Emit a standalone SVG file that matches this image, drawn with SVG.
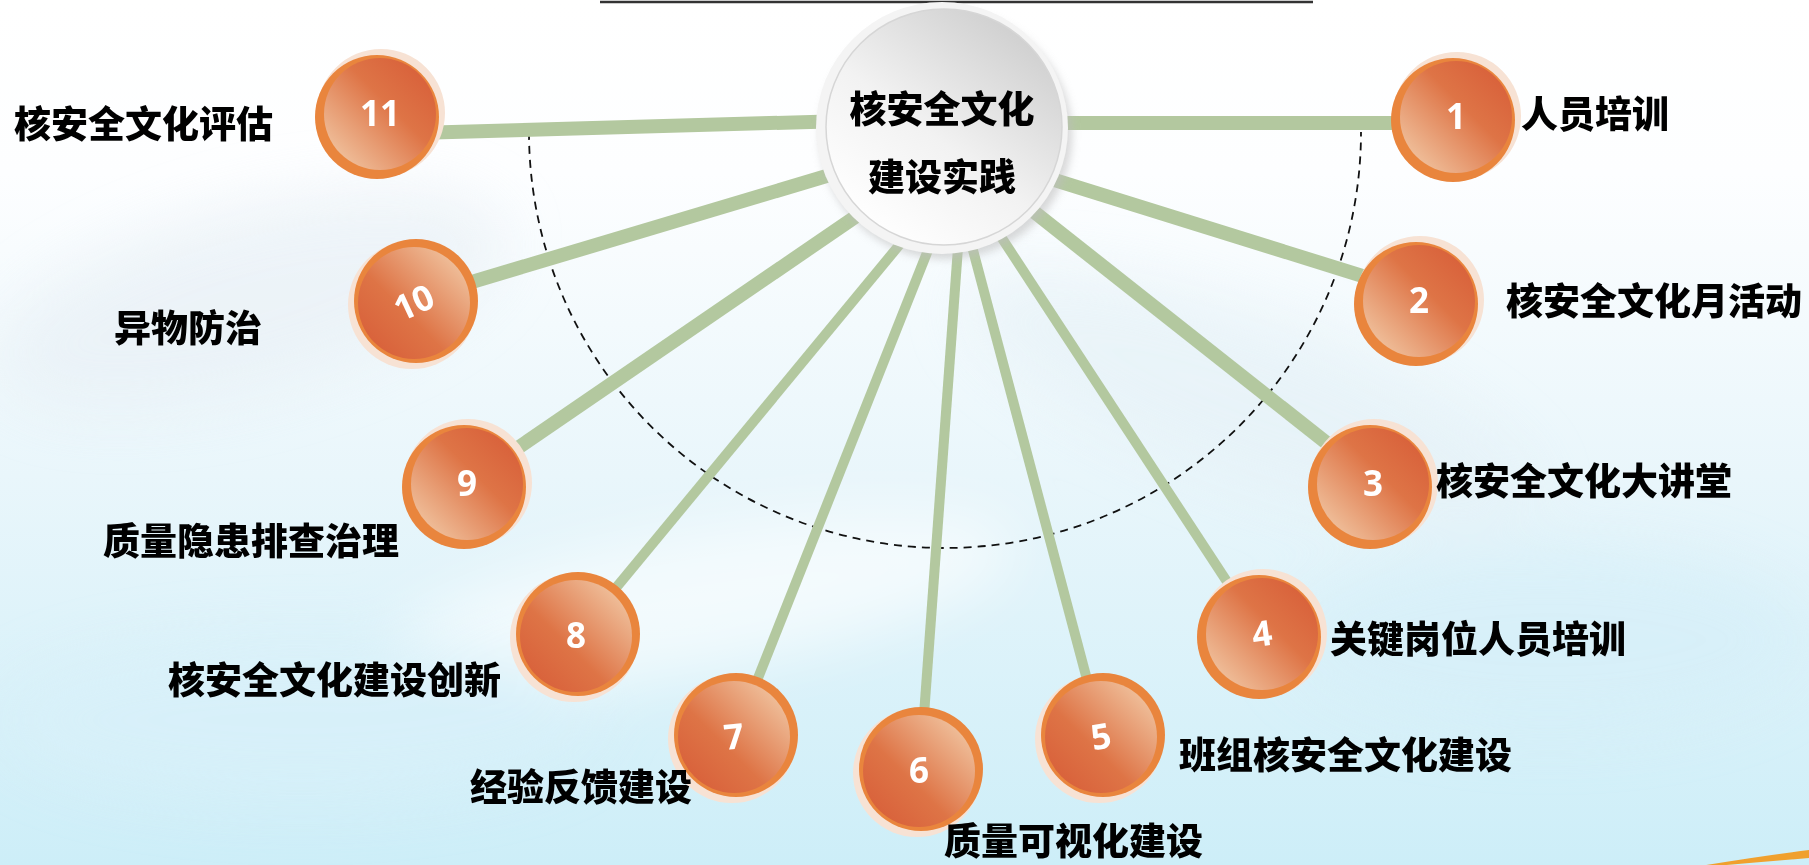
<svg xmlns="http://www.w3.org/2000/svg" width="1809" height="865" viewBox="0 0 1809 865">
<style>
.lbl{font-family:"Noto Sans CJK SC","Noto Sans",sans-serif;font-weight:900;font-size:37px;fill:#000}
.num{font-family:"Open Sans","Noto Sans",sans-serif;font-weight:700;font-size:35px;fill:#fff;text-anchor:middle}
.halo{fill:#F7E2D4}
.ring{fill:#E9853D}
.conA{stroke:#B3C89F;stroke-width:14;fill:none}
.conB{stroke:#B3C89F;stroke-width:10;fill:none}
</style>
<defs>
<linearGradient id="bgG" x1="0" y1="0" x2="0" y2="1">
<stop offset="0" stop-color="#FFFFFF"/>
<stop offset="0.2" stop-color="#FDFEFF"/>
<stop offset="0.55" stop-color="#E9F6FB"/>
<stop offset="1" stop-color="#CDEEF8"/>
</linearGradient>
<linearGradient id="gA" x1="0.1" y1="0.9" x2="0.9" y2="0.1">
<stop offset="0" stop-color="#F0C39F"/>
<stop offset="0.6" stop-color="#DE7446"/>
<stop offset="1" stop-color="#D8603A"/>
</linearGradient>
<linearGradient id="gB" x1="0.9" y1="0.1" x2="0.1" y2="0.9">
<stop offset="0" stop-color="#F0C39F"/>
<stop offset="0.6" stop-color="#DE7446"/>
<stop offset="1" stop-color="#D8603A"/>
</linearGradient>
<linearGradient id="cG" x1="0.85" y1="0.1" x2="0.2" y2="0.95">
<stop offset="0" stop-color="#CFCFCF"/>
<stop offset="0.55" stop-color="#F2F2F2"/>
<stop offset="1" stop-color="#FFFFFF"/>
</linearGradient>
<filter id="blur" x="-50%" y="-50%" width="200%" height="200%"><feGaussianBlur stdDeviation="30"/></filter>
<filter id="sh" x="-20%" y="-20%" width="140%" height="140%"><feGaussianBlur stdDeviation="4"/></filter>
</defs>

<g id="background">
<rect x="0" y="0" width="1809" height="865" fill="url(#bgG)"/>
<g filter="url(#blur)" opacity="0.6">
<ellipse cx="250" cy="300" rx="260" ry="90" fill="#E6EEF4" transform="rotate(-15 250 300)"/>
<ellipse cx="1250" cy="400" rx="300" ry="80" fill="#E4F0F6" transform="rotate(20 1250 400)"/>
<ellipse cx="700" cy="600" rx="320" ry="70" fill="#FFFFFF" transform="rotate(-10 700 600)"/>
<ellipse cx="1550" cy="640" rx="260" ry="90" fill="#D4EEF8"/>
<ellipse cx="300" cy="720" rx="300" ry="80" fill="#D8F0F9"/>
</g>
<path d="M1700 866 Q1760 856 1809 850 L1809 858 Q1760 862 1715 866 Z" fill="#F0A02E"/>
</g>

<line id="top-rule" x1="600" y1="2" x2="1313" y2="2" stroke="#333" stroke-width="2.5"/>

<path id="dashed-arc" d="M529 132 A416 416 0 0 0 1361 132" fill="none" stroke="#111" stroke-width="1.8" stroke-dasharray="8 6"/>

<g id="connectors">
<line class="conA" x1="880" y1="120" x2="380" y2="134"/>
<line class="conA" x1="1000" y1="123" x2="1454" y2="123"/>
<line class="conA" x1="880" y1="160" x2="415" y2="299"/>
<line class="conA" x1="1000" y1="163" x2="1417" y2="293"/>
<line class="conA" x1="880" y1="200" x2="465" y2="484"/>
<line class="conA" x1="1000" y1="185" x2="1371" y2="478"/>
<line class="conB" x1="920" y1="220" x2="577" y2="635"/>
<line class="conB" x1="990" y1="220" x2="1260" y2="632"/>
<line class="conB" x1="940" y1="220" x2="735" y2="736"/>
<line class="conB" x1="965" y1="220" x2="1102" y2="736"/>
<line class="conB" x1="960" y1="220" x2="920" y2="770"/>
</g>

<g id="center">
<ellipse cx="946" cy="135" rx="126" ry="124" fill="#BDBDBD" opacity="0.6" filter="url(#sh)"/>
<circle cx="942" cy="128" r="126" fill="#F4F4F4"/>
<circle cx="944" cy="127" r="118" fill="url(#cG)" stroke="#D6D6D6" stroke-width="1.5"/>
<text class="lbl" x="942" y="123" text-anchor="middle">核安全文化</text>
<text class="lbl" x="942" y="191" text-anchor="middle">建设实践</text>
</g>

<g id="node-1">
<circle class="halo" cx="1457" cy="116" r="64"/>
<circle class="ring" cx="1453" cy="120" r="62"/>
<circle cx="1456" cy="117" r="56" fill="url(#gA)"/>
<text class="num" x="1456" y="129">1</text>
<text class="lbl" x="1521" y="128">人员培训</text>
</g>

<g id="node-2">
<circle class="halo" cx="1420" cy="300" r="64"/>
<circle class="ring" cx="1416" cy="304" r="62"/>
<circle cx="1419" cy="301" r="56" fill="url(#gA)"/>
<text class="num" x="1419" y="313">2</text>
<text class="lbl" x="1506" y="315">核安全文化月活动</text>
</g>

<g id="node-3">
<circle class="halo" cx="1374" cy="483" r="64"/>
<circle class="ring" cx="1370" cy="487" r="62"/>
<circle cx="1373" cy="484" r="56" fill="url(#gA)"/>
<text class="num" x="1373" y="496">3</text>
<text class="lbl" x="1436" y="495">核安全文化大讲堂</text>
</g>

<g id="node-4">
<circle class="halo" cx="1263" cy="633" r="64"/>
<circle class="ring" cx="1259" cy="637" r="62"/>
<circle cx="1262" cy="634" r="56" fill="url(#gA)"/>
<text class="num" x="1262" y="646" transform="rotate(-8 1262 634)">4</text>
<text class="lbl" x="1330" y="653">关键岗位人员培训</text>
</g>

<g id="node-5">
<circle class="halo" cx="1099" cy="739" r="64"/>
<circle class="ring" cx="1103" cy="735" r="62"/>
<circle cx="1101" cy="737" r="56" fill="url(#gB)"/>
<text class="num" x="1101" y="749" transform="rotate(-10 1101 737)">5</text>
<text class="lbl" x="1179" y="769">班组核安全文化建设</text>
</g>

<g id="node-6">
<circle class="halo" cx="917" cy="773" r="64"/>
<circle class="ring" cx="921" cy="769" r="62"/>
<circle cx="919" cy="771" r="56" fill="url(#gB)"/>
<text class="num" x="919" y="783">6</text>
<text class="lbl" x="944" y="855">质量可视化建设</text>
</g>

<g id="node-7">
<circle class="halo" cx="732" cy="739" r="64"/>
<circle class="ring" cx="736" cy="735" r="62"/>
<circle cx="734" cy="737" r="56" fill="url(#gB)"/>
<text class="num" x="734" y="749" transform="rotate(-6 734 737)">7</text>
<text class="lbl" x="470" y="801">经验反馈建设</text>
</g>

<g id="node-8">
<circle class="halo" cx="574" cy="638" r="64"/>
<circle class="ring" cx="578" cy="634" r="62"/>
<circle cx="576" cy="636" r="56" fill="url(#gB)"/>
<text class="num" x="576" y="648">8</text>
<text class="lbl" x="168" y="694">核安全文化建设创新</text>
</g>

<g id="node-9">
<circle class="halo" cx="468" cy="483" r="64"/>
<circle class="ring" cx="464" cy="487" r="62"/>
<circle cx="467" cy="484" r="56" fill="url(#gA)"/>
<text class="num" x="467" y="496">9</text>
<text class="lbl" x="103" y="555">质量隐患排查治理</text>
</g>

<g id="node-10">
<circle class="halo" cx="412" cy="305" r="64"/>
<circle class="ring" cx="416" cy="301" r="62"/>
<circle cx="414" cy="303" r="56" fill="url(#gB)"/>
<text class="num" x="414" y="315" transform="rotate(-25 414 303)">10</text>
<text class="lbl" x="114" y="342">异物防治</text>
</g>

<g id="node-11">
<circle class="halo" cx="381" cy="113" r="64"/>
<circle class="ring" cx="377" cy="117" r="62"/>
<circle cx="380" cy="114" r="56" fill="url(#gA)"/>
<text class="num" x="380" y="126">11</text>
<text class="lbl" x="14" y="138">核安全文化评估</text>
</g>
</svg>
